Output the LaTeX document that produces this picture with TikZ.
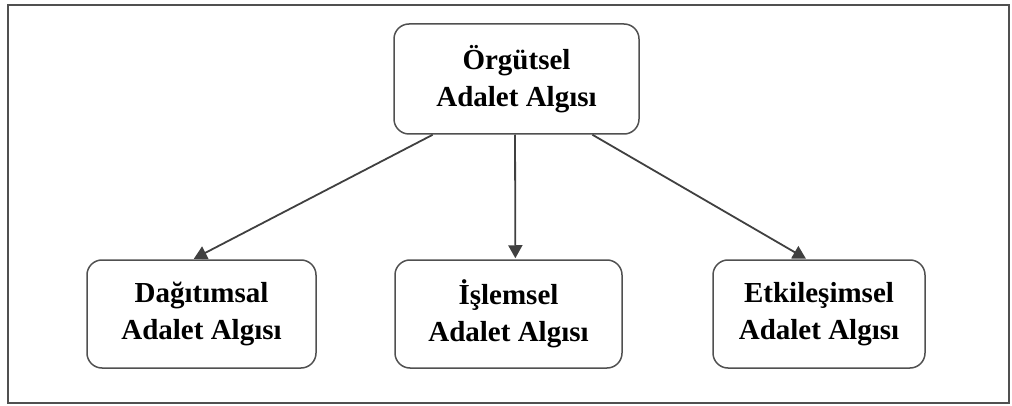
\documentclass[tikz,border=0pt]{standalone}
\usepackage{fontspec}
\setmainfont{Liberation Serif}
\usetikzlibrary{arrows.meta,calc}
\definecolor{edgegray}{HTML}{505050}
\definecolor{arrowgray}{HTML}{404040}
\tikzset{
  concept/.style={draw=edgegray, line width=1.5pt, rounded corners=15pt,
    align=center, inner sep=0pt,
    font=\fontsize{29}{37}\selectfont\bfseries},
  link/.style={draw=arrowgray, line width=1.8pt,
    -{Triangle[length=13pt,width=14pt]}, fill=arrowgray, shorten >=1pt}
}
\begin{document}
\begin{tikzpicture}[x=1pt, y=-1pt]
  % page area and outer frame
  \useasboundingbox (0,0) rectangle (1012,406);
  \draw[edgegray, line width=1.8pt] (8,5) rectangle (1009,403);

  % the four concept boxes
  \node[concept, minimum width=245pt, minimum height=110pt] (org) at (516.5,79)
    {Örgütsel\\Adalet Algısı};
  \node[concept, minimum width=229pt, minimum height=108pt] (dag) at (201.5,314)
    {Dağıtımsal\\Adalet Algısı};
  \node[concept, minimum width=227pt, minimum height=108pt] (isl) at (508.5,314)
    {İşlemsel\\Adalet Algısı};
  \node[concept, minimum width=212pt, minimum height=108pt] (etk) at (819,314)
    {Etkileşimsel\\Adalet Algısı};

  % connectors from the top concept to its three dimensions
  \draw[link] ($(org.south west)!0.16!(org.south east)$) -- ($(dag.north west)!0.463!(dag.north east)$);
  \draw[link] ($(org.south west)!0.494!(org.south east)$) -- ($(isl.north west)!0.53!(isl.north east)$);
  \draw[link] ($(org.south west)!0.808!(org.south east)$) -- ($(etk.north west)!0.443!(etk.north east)$);
\end{tikzpicture}
\end{document}
